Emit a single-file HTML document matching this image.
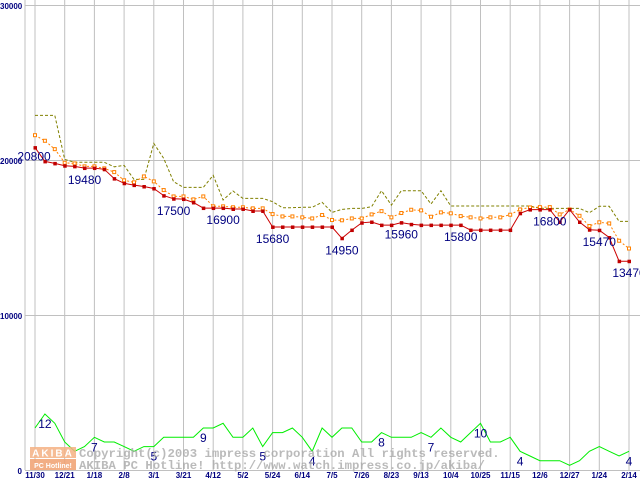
<!DOCTYPE html>
<html><head><meta charset="utf-8"><style>
html,body{margin:0;padding:0;background:#fff;}
svg{display:block;}
</style></head><body>
<svg id="chart" width="640" height="480" xmlns="http://www.w3.org/2000/svg" font-family="Liberation Sans, sans-serif">
<g id="grid"></g>
<g id="axes"></g>
<g id="series"></g>
<g id="wm">
  <rect x="30" y="447" width="46" height="11" fill="#f5b083" opacity="0.85"/>
  <rect x="30" y="459" width="46" height="11" fill="#f0a070" opacity="0.85"/>
  <text x="53" y="456.5" text-anchor="middle" font-size="10" font-weight="bold" fill="#fff" letter-spacing="2">AKIBA</text>
  <text x="53" y="468" text-anchor="middle" font-size="7" font-weight="bold" fill="#fff">PC Hotline!</text>
  <text x="79" y="457" font-family="Liberation Mono, monospace" font-size="12.3" font-weight="bold" fill="#aaa" opacity="0.8">Copyright(c)2003 impress corporation All rights reserved.</text>
  <text x="79" y="469" font-family="Liberation Mono, monospace" font-size="12.3" font-weight="bold" fill="#aaa" opacity="0.8">AKIBA PC Hotline!  http://www.watch.impress.co.jp/akiba/</text>
</g>
</svg>
<script>
const xLabels=["11/30","12/21","1/18","2/8","3/1","3/21","4/12","5/2","5/24","6/14","7/5","7/26","8/23","9/13","10/4","10/25","11/15","12/6","12/27","1/24","2/14"];
const yTicks=[0,10000,20000,30000];
const minPrice=[20800,19910,19780,19630,19590,19480,19480,19400,18800,18500,18380,18290,18160,17700,17500,17480,17260,16900,16900,16900,16840,16840,16710,16710,15680,15680,15680,15680,15680,15680,15680,14950,15480,15950,16000,15800,15800,15960,15850,15800,15800,15800,15800,15800,15480,15480,15480,15480,15480,16560,16800,16800,16800,16000,16800,16000,15500,15470,15000,13470,13470];
const avgPrice=[21600,21240,20700,19820,19780,19590,19590,19460,19220,18690,18560,18940,18620,18060,17650,17650,17460,17650,17010,17010,16950,16950,16880,16880,16510,16360,16360,16300,16230,16450,16130,16110,16230,16230,16490,16700,16300,16580,16790,16750,16340,16620,16560,16380,16300,16230,16300,16300,16470,16810,16940,16960,16960,16490,16810,16400,15740,15980,15910,14790,14290];
const maxPrice=[22880,22880,22880,20040,19850,19850,19850,19850,19560,19650,18750,18750,21070,20100,18600,18230,18230,18230,19010,17420,18000,17520,17520,17520,17310,16920,16920,16950,16950,17270,16620,16810,16880,16880,16990,18020,17090,18020,18020,18020,17160,18020,17030,17030,17030,17030,17030,17030,17030,17030,17030,16880,16880,16880,16880,16880,16600,17010,17010,16040,16040];
const shopCount=[9,12,10,6,4,5,7,6,6,5,4,5,5,7,7,7,7,9,9,10,7,7,9,5,8,8,9,7,4,9,7,9,9,6,6,8,7,7,7,8,7,9,7,6,8,10,6,6,7,4,3,2,2,2,1,2,4,5,4,3,4];
const priceLabelIdx=[0,5,14,19,24,31,37,43,52,57,60];
const countLabelIdx=[1,6,12,17,23,28,35,40,45,49,60];

const NS="http://www.w3.org/2000/svg";
const X0=35, DX=9.9, Y0=470, PY=465/30000, CY=4.67;
const xp=i=>X0+i*DX;
const yp=v=>Y0-v*PY;
const yc=v=>Y0-v*CY;
function mk(tag,attrs,parent){const e=document.createElementNS(NS,tag);for(const k in attrs)e.setAttribute(k,attrs[k]);parent.appendChild(e);return e;}
const grid=document.getElementById('grid'),axes=document.getElementById('axes'),ser=document.getElementById('series');
let l=mk('line',{x1:25,y1:0,x2:25,y2:470,stroke:'#c0c0c0','stroke-width':1},grid);


yTicks.forEach(v=>{
  const g=mk('line',{x1:25,x2:640,y1:yp(v)+0.5,y2:yp(v)+0.5,stroke:'#c0c0c0','stroke-width':1},grid);
  
  
  const t=mk('text',{x:v===0?22:0,y:yp(v)+4,'font-size':8,'font-weight':'bold',fill:'#000080','text-anchor':v===0?'end':'start'},axes);
  t.textContent=String(v);
  
  
});
xLabels.forEach((s,k)=>{
  const x=xp(k*3);
  const g=mk('line',{x1:x,x2:x,y1:0,y2:470,stroke:'#c0c0c0','stroke-width':1},grid);
  
  
  const t=mk('text',{x:x,y:478,'font-size':8,'font-weight':'bold',fill:'#000080','text-anchor':'middle'},axes);
  t.textContent=s;
  
  
});
function pts(arr,f){return arr.map((v,i)=>xp(i).toFixed(1)+','+f(v).toFixed(1)).join(' ');}
let p=mk('polyline',{points:pts(maxPrice,yp),fill:'none',stroke:'#808000','stroke-width':1,'stroke-dasharray':'3,2'},ser);


p=mk('polyline',{points:pts(avgPrice,yp),fill:'none',stroke:'#ff8000','stroke-width':1,'stroke-dasharray':'2,2'},ser);


avgPrice.forEach((v,i)=>{
  const r=mk('rect',{x:xp(i)-1.5,y:yp(v)-1.5,width:3,height:3,fill:'#fff',stroke:'#ff8000','stroke-width':1},ser);
  
  
});
p=mk('polyline',{points:pts(minPrice,yp),fill:'none',stroke:'#cc0000','stroke-width':1},ser);


minPrice.forEach((v,i)=>{
  const r=mk('rect',{x:xp(i)-1.5,y:yp(v)-1.5,width:3.5,height:3.5,fill:'#c00000'},ser);
  
  
});
p=mk('polyline',{points:pts(shopCount,yc),fill:'none',stroke:'#00ee00','stroke-width':1},ser);


priceLabelIdx.forEach(i=>{
  const first=i===0;
  const t=mk('text',{x:first?34:xp(i),y:first?yp(minPrice[i])+13:yp(minPrice[i])+16,'font-size':12,fill:'#000080','text-anchor':'middle'},ser);
  t.textContent=String(minPrice[i]);
  
  
});
countLabelIdx.forEach(i=>{
  const t=mk('text',{x:xp(i),y:yc(shopCount[i])+14,'font-size':12,fill:'#000080','text-anchor':'middle'},ser);
  t.textContent=String(shopCount[i]);
  
  
});
</script>
</body></html>
